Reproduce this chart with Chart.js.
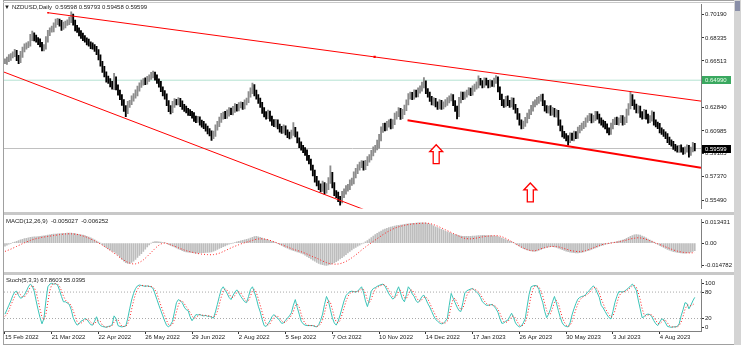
<!DOCTYPE html>
<html>
<head>
<meta charset="utf-8">
<script src="https://cdn.jsdelivr.net/npm/chart.js@4.4.0/dist/chart.umd.min.js"></script>
<style>
body { margin: 0; background: #fff; }
#wrap { position: relative; width: 741px; height: 352px; overflow: hidden; background: #fff; font-family: "Liberation Sans", Arial, sans-serif; }
canvas { position: absolute; left: 0; }
.lbl { position: absolute; font-size: 6px; color: #1a1a1a; white-space: nowrap; line-height: 7px; }
.bar { position: absolute; }
</style>
</head>
<body>
<div id="wrap">
  <canvas id="cPrice" width="734" height="213" style="top:0"></canvas>
  <canvas id="cMacd" width="734" height="57" style="top:215px"></canvas>
  <canvas id="cStoch" width="734" height="70" style="top:275px"></canvas>

  <div class="bar" style="left:3px;top:0;width:1px;height:345px;background:#a0a0a0"></div>
  <div class="bar" style="left:3px;top:0;width:731px;height:1px;background:#a0a0a0"></div>
  <div class="bar" style="left:3px;top:2px;width:731px;height:1px;background:#c8c8c8"></div>
  <div class="bar" style="left:4px;top:212px;width:730px;height:3px;background:#c8c8c8"></div>
  <div class="bar" style="left:4px;top:272px;width:730px;height:3px;background:#c8c8c8"></div>
  <div class="bar" style="left:3px;top:344px;width:731px;height:1px;background:#a0a0a0"></div>
  <div class="bar" style="left:734px;top:0;width:7px;height:345px;background:#d4d4d4"></div>
  <div class="bar" style="left:735px;top:1px;width:5px;height:10px;background:#8a8fa8"></div>

  <div class="lbl" style="left:4px;top:4px">&#9660;</div>
  <div class="lbl" style="left:12px;top:4px">NZDUSD,Daily&nbsp; 0.59598 0.59793 0.59458 0.59599</div>
  <div class="lbl" style="left:6px;top:218px">MACD(12,26,9) &nbsp;-0.005027 &nbsp;-0.006252</div>
  <div class="lbl" style="left:6px;top:277px">Stoch(5,3,3) 67.8603 55.0395</div>
</div>
<script>
// NZDUSD daily, closes in pips (x 0.0001), one per bar
const closes = [
  6647, 6663, 6678, 6694, 6701, 6717, 6678, 6655, 6701, 6740, 6763, 6779, 6786, 6833, 6856, 6833, 6817, 6802, 6779, 6756,
  6763, 6817, 6872, 6895, 6903, 6934, 6957, 6964, 6949, 6918, 6934, 6949, 6957, 6972, 7003, 6957, 6910, 6895, 6872, 6848,
  6833, 6817, 6802, 6786, 6771, 6763, 6748, 6725, 6678, 6632, 6585, 6547, 6508, 6492, 6469, 6446, 6508, 6446, 6399, 6368,
  6322, 6276, 6252, 6307, 6322, 6353, 6376, 6399, 6430, 6461, 6477, 6492, 6485, 6508, 6523, 6539, 6547, 6523, 6492, 6469,
  6430, 6399, 6368, 6322, 6276, 6260, 6307, 6330, 6322, 6338, 6314, 6291, 6276, 6260, 6245, 6237, 6221, 6198, 6183, 6190,
  6167, 6152, 6136, 6121, 6098, 6082, 6059, 6074, 6121, 6152, 6183, 6214, 6229, 6214, 6237, 6260, 6245, 6268, 6291, 6276,
  6299, 6307, 6291, 6322, 6338, 6384, 6415, 6446, 6399, 6368, 6338, 6307, 6260, 6229, 6214, 6237, 6198, 6167, 6152, 6167,
  6136, 6113, 6098, 6121, 6090, 6067, 6059, 6082, 6105, 6074, 6028, 5989, 5966, 5950, 5927, 5889, 5858, 5811, 5765, 5718,
  5687, 5656, 5641, 5672, 5625, 5656, 5703, 5749, 5672, 5610, 5594, 5564, 5548, 5594, 5618, 5641, 5656, 5687, 5703, 5749,
  5780, 5811, 5827, 5842, 5811, 5842, 5873, 5889, 5920, 5950, 5966, 5981, 6043, 6105, 6136, 6121, 6152, 6167, 6136, 6167,
  6214, 6229, 6260, 6214, 6245, 6276, 6322, 6368, 6384, 6368, 6399, 6384, 6415, 6430, 6461, 6477, 6415, 6384, 6353, 6322,
  6338, 6307, 6291, 6322, 6291, 6307, 6322, 6338, 6353, 6368, 6322, 6276, 6229, 6338, 6384, 6368, 6384, 6399, 6415, 6399,
  6430, 6446, 6461, 6492, 6477, 6461, 6492, 6477, 6461, 6477, 6469, 6492, 6508, 6430, 6368, 6322, 6307, 6353, 6322, 6307,
  6338, 6291, 6260, 6214, 6167, 6136, 6152, 6183, 6214, 6245, 6276, 6307, 6322, 6338, 6353, 6368, 6322, 6276, 6260, 6276,
  6245, 6260, 6229, 6245, 6167, 6121, 6074, 6059, 6043, 6028, 6059, 6043, 6074, 6059, 6105, 6121, 6136, 6152, 6183, 6198,
  6214, 6183, 6198, 6229, 6214, 6183, 6167, 6152, 6136, 6105, 6090, 6136, 6167, 6183, 6167, 6183, 6198, 6167, 6183, 6245,
  6291, 6368, 6322, 6291, 6260, 6276, 6229, 6214, 6245, 6214, 6183, 6198, 6229, 6167, 6152, 6136, 6105, 6090, 6074, 6059,
  6028, 6012, 5997, 5974, 5958, 5950, 5966, 5950, 5935, 5950, 5966, 5927, 5950, 5981, 5960
];
// pips above the bar body (open = previous close) and below it
const upWick = [
  20, 18, 24, 16, 22, 25, 18, 17, 26, 20, 24, 16, 19, 28, 30, 17, 22, 18, 24, 19,
  18, 26, 20, 17, 24, 19, 25, 23, 18, 22, 24, 17, 19, 26, 36, 18, 16, 22, 17, 19,
  23, 18, 16, 22, 17, 24, 18, 19, 16, 22, 17, 23, 18, 24, 19, 22, 45, 18, 17, 22,
  18, 24, 22, 26, 19, 23, 17, 25, 22, 18, 24, 19, 26, 22, 18, 23, 25, 17, 19, 18,
  22, 17, 18, 23, 16, 22, 26, 24, 19, 23, 18, 22, 17, 19, 18, 23, 16, 22, 18, 24,
  19, 17, 22, 18, 16, 19, 17, 24, 26, 22, 25, 23, 18, 24, 28, 22, 19, 25, 23, 18,
  24, 22, 18, 23, 19, 25, 24, 30, 18, 22, 17, 19, 18, 23, 22, 26, 18, 17, 22, 24,
  19, 17, 22, 25, 18, 17, 22, 24, 60, 22, 18, 17, 23, 19, 18, 22, 17, 19, 18, 24,
  22, 18, 24, 30, 19, 26, 28, 75, 22, 18, 17, 22, 19, 28, 24, 26, 22, 25, 23, 27,
  24, 22, 26, 23, 19, 25, 24, 22, 26, 23, 19, 45, 28, 26, 22, 24, 23, 19, 26, 22,
  25, 23, 22, 18, 24, 26, 23, 25, 22, 19, 24, 22, 23, 25, 24, 42, 18, 17, 22, 19,
  23, 18, 22, 24, 19, 22, 24, 23, 22, 24, 18, 17, 19, 25, 23, 22, 24, 23, 25, 22,
  24, 23, 25, 42, 22, 19, 26, 23, 22, 25, 19, 24, 28, 18, 17, 22, 24, 19, 22, 18,
  23, 19, 17, 18, 22, 19, 24, 23, 25, 22, 24, 23, 22, 25, 19, 18, 22, 17, 23, 19,
  22, 24, 18, 23, 17, 19, 18, 22, 19, 18, 24, 22, 23, 19, 25, 22, 24, 23, 19, 22,
  24, 19, 23, 25, 22, 18, 19, 17, 22, 18, 19, 24, 23, 22, 24, 19, 23, 22, 25, 26,
  24, 42, 18, 22, 19, 23, 18, 22, 24, 19, 18, 22, 28, 18, 19, 17, 22, 18, 19, 17,
  18, 22, 17, 19, 18, 23, 19, 22, 18, 24, 23, 18, 22, 28, 20
];
const downWick = [
  18, 23, 17, 22, 18, 16, 24, 26, 18, 22, 17, 19, 23, 18, 22, 24, 18, 22, 17, 25,
  26, 19, 18, 22, 17, 23, 18, 19, 24, 26, 18, 22, 17, 19, 18, 24, 22, 18, 23, 19,
  22, 18, 24, 19, 23, 18, 22, 24, 19, 23, 25, 22, 24, 19, 23, 18, 22, 24, 19, 23,
  22, 24, 40, 18, 22, 17, 19, 18, 23, 17, 19, 18, 22, 17, 19, 18, 22, 23, 19, 24,
  22, 24, 19, 23, 25, 28, 18, 22, 19, 18, 23, 22, 24, 19, 23, 18, 22, 24, 19, 18,
  22, 23, 19, 24, 22, 23, 36, 22, 18, 17, 19, 18, 22, 19, 17, 22, 18, 19, 23, 22,
  19, 18, 22, 18, 19, 17, 18, 22, 24, 19, 23, 22, 24, 19, 23, 18, 22, 24, 19, 23,
  22, 24, 19, 18, 23, 22, 24, 18, 19, 22, 24, 22, 19, 23, 22, 24, 19, 23, 22, 24,
  23, 22, 24, 19, 25, 18, 22, 19, 24, 23, 22, 24, 36, 18, 22, 19, 18, 22, 19, 23,
  22, 19, 23, 18, 22, 19, 18, 22, 19, 18, 22, 17, 19, 23, 18, 22, 19, 23, 22, 18,
  19, 22, 18, 24, 19, 18, 17, 19, 18, 22, 19, 18, 17, 19, 18, 22, 23, 19, 22, 18,
  22, 19, 23, 18, 22, 19, 18, 22, 19, 18, 23, 24, 36, 18, 19, 22, 18, 19, 17, 22,
  18, 19, 17, 22, 18, 22, 19, 18, 22, 19, 18, 22, 19, 24, 22, 23, 22, 19, 23, 22,
  19, 23, 22, 24, 23, 22, 19, 18, 22, 19, 18, 22, 19, 18, 22, 19, 23, 22, 19, 22,
  23, 22, 19, 22, 24, 23, 22, 19, 23, 42, 22, 19, 23, 22, 19, 22, 18, 19, 22, 18,
  19, 22, 18, 19, 22, 23, 22, 24, 22, 23, 22, 19, 22, 18, 19, 22, 19, 22, 18, 19,
  22, 18, 23, 22, 19, 22, 23, 22, 19, 22, 23, 19, 22, 23, 22, 19, 22, 18, 19, 22,
  23, 22, 19, 22, 18, 19, 22, 19, 22, 18, 19, 36, 22, 18, 19
];
// MACD main (histogram) and signal, x 0.0001
const macdMain = [
  -20, -14, -8, -3, 2, 7, 12, 17, 21, 25, 29, 32, 35, 38, 40, 42, 42, 43, 44, 46,
  48, 50, 53, 55, 57, 59, 60, 61, 62, 63, 64, 65, 66, 66, 66, 64, 62, 60, 57, 55,
  52, 49, 45, 40, 35, 28, 22, 14, 6, 0, -10, -20, -30, -38, -45, -53, -58, -68, -80, -95,
  -108, -120, -130, -135, -134, -128, -120, -108, -95, -82, -70, -55, -40, -25, -12, 0, 6, 10, 10, 8,
  6, 4, 2, -3, -10, -16, -20, -26, -32, -38, -44, -50, -55, -58, -60, -62, -64, -65, -66, -66,
  -65, -64, -63, -62, -61, -60, -58, -54, -48, -42, -36, -30, -24, -18, -12, -8, -4, 0, 4, 8,
  12, 15, 18, 21, 24, 28, 33, 38, 43, 45, 42, 38, 33, 28, 24, 20, 16, 12, 7, 2,
  -4, -10, -16, -22, -28, -34, -40, -45, -50, -54, -58, -62, -66, -72, -80, -88, -96, -104, -112, -120,
  -128, -134, -139, -142, -146, -148, -144, -140, -136, -130, -122, -114, -105, -96, -87, -76, -65, -55, -45, -36,
  -28, -20, -13, -6, 0, 8, 16, 26, 36, 46, 56, 64, 72, 80, 87, 93, 98, 102, 106, 109,
  112, 115, 117, 119, 121, 123, 125, 127, 129, 130, 131, 132, 133, 134, 134, 134, 132, 129, 125, 120,
  114, 108, 102, 96, 90, 85, 80, 75, 70, 65, 60, 56, 52, 49, 47, 45, 44, 44, 44, 45,
  46, 47, 48, 49, 50, 51, 51, 50, 50, 49, 48, 47, 46, 43, 38, 33, 28, 23, 18, 13,
  8, 2, -5, -12, -20, -28, -35, -40, -45, -49, -52, -54, -55, -52, -47, -42, -37, -32, -28, -25,
  -24, -24, -26, -29, -33, -38, -43, -48, -53, -57, -60, -62, -64, -65, -65, -64, -62, -58, -54, -50,
  -46, -42, -37, -32, -27, -22, -17, -13, -9, -5, -2, 1, 4, 7, 10, 13, 16, 20, 25, 31,
  38, 45, 50, 54, 56, 55, 52, 47, 41, 34, 27, 20, 13, 6, -1, -8, -15, -22, -29, -36,
  -42, -47, -52, -56, -59, -62, -64, -65, -66, -66, -65, -63, -60, -55, -50
];
const macdSignal = [
  -55, -50, -45, -40, -34, -28, -22, -16, -10, -4, 2, 7, 12, 17, 22, 26, 29, 32, 35, 38,
  40, 42, 44, 46, 48, 50, 52, 54, 56, 58, 59, 60, 61, 61, 61, 60, 59, 57, 54, 51,
  47, 43, 38, 33, 27, 21, 15, 8, 1, -6, -14, -22, -30, -39, -48, -57, -66, -75, -85, -95,
  -104, -112, -120, -127, -132, -136, -138, -137, -134, -128, -120, -111, -100, -88, -75, -62, -49, -36, -24, -14,
  -6, -2, 0, -2, -6, -11, -16, -21, -26, -31, -36, -41, -46, -50, -54, -57, -60, -63, -66, -69,
  -71, -73, -74, -75, -76, -77, -77, -76, -74, -71, -67, -62, -56, -50, -44, -38, -32, -26, -21, -16,
  -11, -6, -2, 2, 6, 10, 14, 18, 22, 25, 27, 28, 28, 27, 25, 22, 18, 14, 9, 4,
  -1, -6, -11, -16, -21, -26, -31, -36, -41, -45, -49, -53, -57, -62, -67, -72, -78, -84, -90, -95,
  -100, -106, -112, -118, -124, -129, -133, -136, -138, -139, -139, -138, -136, -132, -127, -121, -114, -106, -97, -88,
  -78, -68, -57, -46, -36, -26, -16, -7, 2, 11, 20, 29, 38, 47, 56, 64, 72, 79, 86, 92,
  98, 103, 107, 111, 114, 117, 120, 122, 124, 126, 127, 128, 129, 130, 131, 132, 132, 131, 129, 126,
  122, 117, 112, 106, 100, 94, 88, 82, 76, 70, 64, 58, 52, 46, 40, 35, 31, 29, 28, 28,
  29, 31, 33, 36, 39, 41, 43, 45, 46, 47, 48, 49, 49, 48, 46, 42, 37, 31, 24, 17,
  10, 3, -5, -12, -19, -26, -32, -38, -43, -47, -50, -51, -50, -47, -43, -38, -34, -30, -27, -25,
  -23, -22, -22, -23, -25, -28, -32, -36, -40, -44, -48, -51, -53, -55, -56, -56, -55, -53, -50, -46,
  -41, -36, -31, -26, -21, -16, -12, -8, -5, -3, -1, 0, 2, 4, 6, 8, 11, 14, 17, 20,
  24, 27, 30, 32, 34, 35, 34, 32, 29, 25, 20, 15, 10, 5, 0, -5, -10, -15, -20, -25,
  -30, -35, -40, -45, -49, -53, -56, -59, -61, -63, -64, -65, -65, -64, -63
];
// Stochastic %K and %D
const stochK = [
  30, 40, 50, 60, 72, 80, 82, 72, 66, 68, 74, 82, 92, 98, 94, 82, 60, 40, 22, 8,
  20, 60, 92, 98, 100, 98, 99, 96, 84, 70, 58, 58, 55, 52, 40, 22, 12, 5, 8, 14,
  16, 20, 18, 12, 6, 5, 14, 24, 10, 4, 2, 1, 0, 2, 3, 6, 26, 20, 4, 2,
  1, 2, 3, 20, 42, 62, 77, 88, 94, 96, 95, 94, 93, 94, 93, 92, 88, 76, 63, 50,
  38, 26, 14, 4, 1, 6, 14, 35, 56, 63, 60, 56, 46, 40, 38, 24, 15, 22, 29, 28,
  29, 27, 26, 27, 25, 25, 23, 21, 35, 52, 70, 86, 92, 84, 77, 68, 63, 72, 80, 85,
  78, 70, 64, 58, 56, 70, 86, 92, 80, 66, 48, 35, 18, 4, 2, 8, 15, 24, 29, 24,
  21, 15, 9, 10, 16, 21, 26, 33, 50, 63, 45, 30, 14, 8, 5, 4, 4, 4, 4, 2,
  1, 6, 16, 30, 52, 70, 60, 40, 22, 10, 5, 14, 28, 44, 60, 72, 77, 81, 82, 81,
  80, 82, 87, 92, 80, 60, 47, 62, 82, 88, 90, 93, 95, 97, 98, 94, 85, 76, 70, 64,
  68, 82, 92, 78, 64, 58, 74, 92, 86, 76, 70, 60, 56, 62, 70, 73, 64, 54, 46, 36,
  26, 18, 14, 10, 8, 9, 14, 20, 50, 77, 66, 56, 46, 38, 36, 56, 78, 83, 85, 87,
  88, 84, 80, 76, 68, 58, 54, 50, 50, 51, 52, 48, 42, 34, 20, 9, 10, 14, 16, 24,
  32, 22, 10, 4, 1, 3, 10, 20, 48, 75, 92, 94, 95, 94, 86, 70, 56, 36, 22, 30,
  42, 58, 70, 55, 38, 22, 10, 4, 2, 1, 10, 28, 42, 54, 64, 68, 70, 71, 74, 80,
  84, 90, 94, 88, 78, 68, 50, 44, 36, 28, 22, 19, 36, 56, 70, 81, 81, 80, 82, 86,
  89, 94, 98, 92, 84, 62, 42, 22, 24, 29, 30, 29, 24, 15, 8, 4, 12, 19, 18, 10,
  2, 1, 0, 1, 1, 2, 8, 26, 40, 56, 54, 42, 50, 60, 68
];
const stochD = [
  25, 30, 38, 50, 60, 70, 78, 78, 74, 69, 69, 75, 83, 91, 95, 91, 79, 61, 41, 23,
  17, 29, 57, 83, 97, 99, 99, 98, 93, 83, 71, 62, 57, 55, 49, 38, 25, 13, 8, 9,
  13, 17, 18, 17, 12, 8, 8, 14, 16, 13, 5, 2, 1, 1, 2, 4, 12, 17, 17, 9,
  2, 2, 2, 8, 22, 41, 60, 76, 86, 93, 95, 95, 94, 94, 93, 93, 91, 85, 76, 63,
  50, 38, 26, 15, 6, 4, 7, 18, 35, 51, 60, 60, 54, 47, 41, 34, 26, 20, 22, 26,
  29, 28, 27, 27, 26, 26, 24, 23, 26, 36, 52, 69, 83, 87, 84, 76, 69, 68, 72, 79,
  81, 78, 71, 64, 59, 61, 71, 83, 86, 79, 65, 50, 34, 19, 8, 5, 8, 16, 23, 26,
  25, 20, 15, 11, 12, 16, 21, 27, 36, 49, 53, 46, 30, 17, 9, 6, 4, 4, 4, 3,
  2, 3, 8, 17, 33, 51, 61, 57, 41, 24, 12, 10, 16, 29, 44, 59, 70, 77, 80, 81,
  81, 81, 83, 87, 86, 77, 62, 56, 64, 77, 87, 90, 93, 95, 97, 96, 92, 85, 77, 70,
  67, 71, 81, 84, 78, 67, 65, 75, 84, 85, 77, 69, 62, 59, 63, 68, 69, 64, 55, 45,
  36, 27, 19, 14, 11, 9, 10, 14, 28, 49, 64, 66, 56, 47, 40, 43, 57, 72, 82, 85,
  87, 86, 84, 80, 75, 67, 60, 54, 51, 50, 51, 50, 47, 41, 32, 21, 13, 11, 13, 18,
  24, 26, 21, 12, 5, 3, 5, 11, 26, 48, 72, 87, 94, 94, 92, 83, 71, 54, 38, 29,
  31, 43, 57, 61, 54, 38, 23, 12, 5, 2, 4, 13, 27, 41, 53, 62, 67, 70, 72, 75,
  79, 85, 89, 91, 87, 78, 65, 54, 43, 36, 29, 23, 26, 37, 54, 69, 77, 81, 81, 83,
  86, 90, 94, 95, 91, 79, 63, 42, 29, 25, 28, 29, 28, 23, 16, 9, 8, 12, 16, 16,
  10, 4, 1, 1, 1, 1, 4, 12, 25, 41, 50, 51, 49, 51, 55
];

// time axis labels and the bar each one sits on
const dateLabels = ['15 Feb 2022', '21 Mar 2022', '22 Apr 2022', '26 May 2022', '29 Jun 2022', '2 Aug 2022',
  '5 Sep 2022', '7 Oct 2022', '10 Nov 2022', '14 Dec 2022', '17 Jan 2023', '26 Apr 2023', '30 May 2023',
  '3 Jul 2023', '4 Aug 2023'];
const dateBars = [0, 24, 48, 72, 96, 120, 144, 168, 192, 216, 240, 264, 288, 312, 336];

// right scale labels
const priceTicks = [0.70190, 0.68335, 0.66513, 0.62840, 0.60985, 0.59185, 0.57370, 0.55490];
const macdTicks = [0.013431, 0, -0.014782];
const macdTickText = ['0.013431', '0.00', '-0.014782'];
const stochTicks = [100, 80, 20, 0];
const stochLevels = [80, 20];

// chart objects: trend lines as [bar, price] anchors
const trendUpper = [[22.1, 0.70318], [189.7, 0.66828], [357.2, 0.63340]];
const trendLowerLeft = [[-1, 0.65661], [184, 0.54792]];
const trendSupport = [[206.6, 0.61832], [357.2, 0.58080]];
const levelLine = 0.64990;
const bidPrice = 0.59599;
const arrowBars = [221.3, 269.6];
const arrowPrices = [0.59898, 0.56880];

const X_MIN = -0.5, X_MAX = 357.2;
const FONT = { family: 'Liberation Sans', size: 6 };
const TXT = '#1a1a1a';

Chart.defaults.font.family = 'Liberation Sans';

function xAxis(show) {
  const ax = { type: 'linear', min: X_MIN, max: X_MAX, display: show, offset: false, grid: { offset: false } };
  if (show) {
    ax.afterFit = s => { s.height = 14; };
    ax.afterBuildTicks = s => { s.ticks = dateBars.map(v => ({ value: v })); };
    ax.ticks = { autoSkip: false, maxRotation: 0, align: 'start', padding: 0, font: FONT, color: TXT,
      callback: (v, i) => dateLabels[i] };
    ax.grid = { offset: false, drawOnChartArea: false, drawTicks: true, tickLength: 3, color: '#333' };
    ax.border = { display: true, color: '#808080' };
  }
  return ax;
}
function yAxis(min, max, values, fmt) {
  return {
    position: 'right', min: min, max: max,
    afterFit: s => { s.width = 33; },
    afterBuildTicks: s => { s.ticks = values.map(v => ({ value: v })); },
    ticks: { autoSkip: false, padding: 1, font: FONT, color: TXT, callback: fmt },
    grid: { drawOnChartArea: false, drawTicks: true, tickLength: 3, color: '#333' },
    border: { display: true, color: '#808080' }
  };
}
function baseOptions(scales, pad) {
  return {
    animation: false, responsive: false, devicePixelRatio: 1, events: [],
    layout: { padding: pad },
    plugins: { legend: { display: false }, tooltip: { enabled: false } },
    scales: scales
  };
}
function flatLine(v, color, dash, order) {
  return { type: 'line', data: [{ x: X_MIN, y: v }, { x: X_MAX, y: v }], borderColor: color, borderWidth: 1,
    borderDash: dash, pointRadius: 0, order: order };
}
function anchorLine(pts, width, radius, order) {
  return { type: 'line', data: pts.map(p => ({ x: p[0], y: p[1] })), borderColor: '#ff0000', borderWidth: width,
    pointRadius: radius, pointStyle: 'rect', pointBackgroundColor: '#ff0000', pointBorderWidth: 0, order: order };
}

// price bars: open taken as the previous close
const priceBars = closes.map((c, i) => {
  const o = i > 0 ? closes[i - 1] : c;
  return { x: i, y: [(Math.min(o, c) - downWick[i]) / 10000, (Math.max(o, c) + upWick[i]) / 10000] };
});
const barColors = closes.map((c, i) => (i > 0 && c < closes[i - 1]) ? '#000000' : '#8c8c8c');

const overlay = {
  id: 'overlay',
  afterDatasetsDraw(chart) {
    const ctx = chart.ctx, xs = chart.scales.x, ys = chart.scales.y;
    ctx.save();
    ctx.strokeStyle = '#ff0000';
    ctx.lineWidth = 1.3;
    ctx.fillStyle = '#ffffff';
    arrowBars.forEach((b, k) => {
      const x = xs.getPixelForValue(b), y = ys.getPixelForValue(arrowPrices[k]);
      ctx.beginPath();
      ctx.moveTo(x, y);
      ctx.lineTo(x + 6.5, y + 7);
      ctx.lineTo(x + 3, y + 7);
      ctx.lineTo(x + 3, y + 19);
      ctx.lineTo(x - 3, y + 19);
      ctx.lineTo(x - 3, y + 7);
      ctx.lineTo(x - 6.5, y + 7);
      ctx.closePath();
      ctx.fill();
      ctx.stroke();
    });
    ctx.restore();
  },
  afterDraw(chart) {
    const ctx = chart.ctx, ys = chart.scales.y, left = chart.chartArea.right + 1;
    const boxes = [[levelLine, '#3aa860', '#e8ffe8'], [bidPrice, '#000000', '#ffffff']];
    ctx.save();
    ctx.font = '6px "Liberation Sans"';
    ctx.textBaseline = 'middle';
    boxes.forEach(b => {
      const y = Math.round(ys.getPixelForValue(b[0]));
      ctx.fillStyle = b[1];
      ctx.fillRect(left, y - 4, 29, 8);
      ctx.fillStyle = b[2];
      ctx.fillText(b[0].toFixed(5), left + 3, y + 0.5);
    });
    ctx.restore();
  }
};

new Chart(document.getElementById('cPrice'), {
  type: 'bar',
  data: {
    datasets: [
      flatLine(levelLine, '#b4e2d2', [], 5),
      flatLine(bidPrice, '#c0c0c0', [], 4),
      { type: 'bar', data: priceBars, backgroundColor: barColors, barThickness: 1.2, borderWidth: 0, order: 3 },
      anchorLine(trendLowerLeft, 1, 0, 2),
      anchorLine(trendUpper, 1, [1.2, 1.6, 0], 1),
      anchorLine(trendSupport, 2, 0, 1)
    ]
  },
  options: baseOptions({
    x: xAxis(false),
    y: yAxis(0.5487, 0.7096, priceTicks, v => v.toFixed(5))
  }, { left: 4, top: 4, bottom: 1, right: 0 }),
  plugins: [overlay]
});

new Chart(document.getElementById('cMacd'), {
  type: 'bar',
  data: {
    datasets: [
      { type: 'bar', data: macdMain.map((v, i) => ({ x: i, y: v / 10000 })), backgroundColor: '#bdbdbd',
        barThickness: 1, borderWidth: 0, order: 2 },
      { type: 'line', data: macdSignal.map((v, i) => ({ x: i, y: v / 10000 })), borderColor: '#ff2020',
        borderWidth: 1, borderDash: [1, 2], pointRadius: 0, order: 1 }
    ]
  },
  options: baseOptions({
    x: xAxis(false),
    y: yAxis(-0.016049, 0.015495, macdTicks, (v, i) => macdTickText[i])
  }, { left: 4, top: 0, bottom: 0, right: 0 })
});

new Chart(document.getElementById('cStoch'), {
  type: 'line',
  data: {
    datasets: [
      flatLine(stochLevels[0], '#a8a8a8', [1, 2], 3),
      flatLine(stochLevels[1], '#a8a8a8', [1, 2], 3),
      { data: stochK.map((v, i) => ({ x: i, y: v })), borderColor: '#3cc4b8', borderWidth: 1, pointRadius: 0, order: 2 },
      { data: stochD.map((v, i) => ({ x: i, y: v })), borderColor: '#ff2020', borderWidth: 1, borderDash: [1, 2],
        pointRadius: 0, order: 1 }
    ]
  },
  options: baseOptions({
    x: xAxis(true),
    y: yAxis(-8.3, 108.3, stochTicks, v => String(v))
  }, { left: 4, top: 0, bottom: 0, right: 0 })
});
</script>
</body>
</html>
